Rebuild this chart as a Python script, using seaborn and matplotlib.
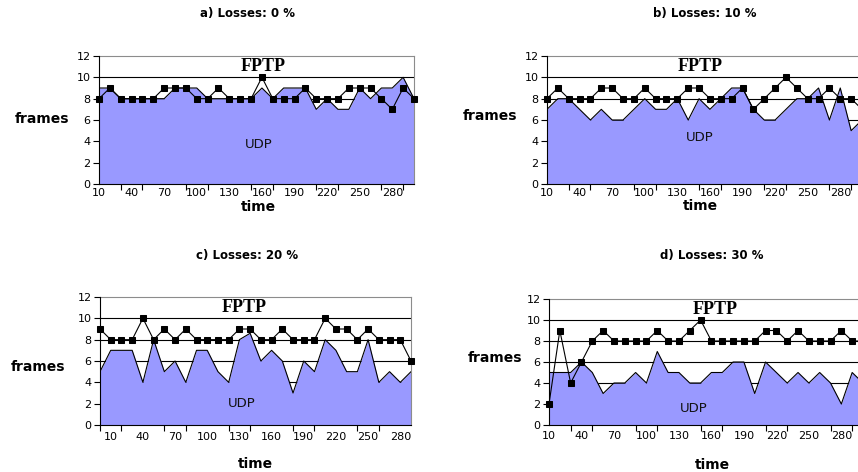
import matplotlib
matplotlib.use("Agg")
import matplotlib.pyplot as plt
import seaborn as sns

sns.set_theme(style="white")
plt.rcParams["font.family"] = ["DejaVu Sans"]

# ---- data -------------------------------------------------------------
time_abd = [10, 20, 30, 40, 50, 60, 70, 80, 90, 100, 110, 120, 130, 140, 150,
            160, 170, 180, 190, 200, 210, 220, 230, 240, 250, 260, 270, 280, 290, 300]
time_c = [0, 10, 20, 30, 40, 50, 60, 70, 80, 90, 100, 110, 120, 130, 140,
          150, 160, 170, 180, 190, 200, 210, 220, 230, 240, 250, 260, 270, 280, 290]

fptp_a = [8, 9, 8, 8, 8, 8, 9, 9, 9, 8, 8, 9, 8, 8, 8, 10, 8, 8, 8, 9, 8, 8, 8, 9, 9, 9, 8, 7, 9, 8]
udp_a = [9, 9, 8, 8, 8, 8, 8, 9, 9, 9, 8, 8, 8, 8, 8, 9, 8, 9, 9, 9, 7, 8, 7, 7, 9, 8, 9, 9, 10, 8]

fptp_b = [8, 9, 8, 8, 8, 9, 9, 8, 8, 9, 8, 8, 8, 9, 9, 8, 8, 8, 9, 7, 8, 9, 10, 9, 8, 8, 9, 8, 8, 7]
udp_b = [7, 8, 8, 7, 6, 7, 6, 6, 7, 8, 7, 7, 8, 6, 8, 7, 8, 9, 9, 7, 6, 6, 7, 8, 8, 9, 6, 9, 5, 6]

fptp_c = [9, 8, 8, 8, 10, 8, 9, 8, 9, 8, 8, 8, 8, 9, 9, 8, 8, 9, 8, 8, 8, 10, 9, 9, 8, 9, 8, 8, 8, 6]
udp_c = [5, 7, 7, 7, 4, 8, 5, 6, 4, 7, 7, 5, 4, 8, 8.6, 6, 7, 6, 3, 6, 5, 8, 7, 5, 5, 8, 4, 5, 4, 5]

fptp_d = [2, 9, 4, 6, 8, 9, 8, 8, 8, 8, 9, 8, 8, 9, 10, 8, 8, 8, 8, 8, 9, 9, 8, 9, 8, 8, 8, 9, 8, 8]
udp_d = [5, 5, 5, 6, 5, 3, 4, 4, 5, 4, 7, 5, 5, 4, 4, 5, 5, 6, 6, 3, 6, 5, 4, 5, 4, 5, 4, 2, 5, 4]

titles = ["a) Losses: 0 %", "b) Losses: 10 %", "c) Losses: 20 %", "d) Losses: 30 %"]
x_labels = ["10", "40", "70", "100", "130", "160", "190", "220", "250", "280"]
y_ticks = [0, 2, 4, 6, 8, 10, 12]

W, H = 858, 472
FILL = "#9999FF"

fig = plt.figure(figsize=(W / 100, H / 100), dpi=100)
fig.patch.set_facecolor("white")


def px_axes(left, right, top, bottom):
    return fig.add_axes([left / W, 1 - bottom / H, (right - left) / W, (bottom - top) / H])


panels = [
    # times, fptp, udp, axes box (px), first labelled index, FPTP text x, UDP text (x, y), label pad
    (time_abd, fptp_a, udp_a, (99, 414, 56, 184), 0, 161, (157, 3.7), 3),
    (time_abd, fptp_b, udp_b, (547, 862, 56, 184), 0, 151, (151, 4.4), 3),
    (time_c, fptp_c, udp_c, (100, 411, 297, 425), 1, 134, (132, 2.0), 5),
    (time_abd, fptp_d, udp_d, (549, 863, 299, 425), 0, 163, (144, 1.6), 4),
]

for times, fptp, udp, box, first_lab, fptp_x, udp_xy, xpad in panels:
    ax = px_axes(*box)
    ax.set_facecolor("white")

    # horizontal gridlines sit beneath the filled area
    for yv in y_ticks[1:-1]:
        ax.axhline(yv, color="black", lw=0.8, zorder=1)

    ax.fill_between(times, udp, 0, color=FILL, lw=0, zorder=2)
    sns.lineplot(x=times, y=udp, color="black", lw=0.8, ax=ax, zorder=3)
    sns.lineplot(x=times, y=fptp, color="black", lw=0.8, marker="s", markersize=5,
                 markeredgecolor="black", markerfacecolor="black", ax=ax, zorder=4,
                 clip_on=False)

    ax.set_xlim(times[0], times[-1])
    ax.set_ylim(0, 12)

    ax.set_yticks(y_ticks)
    ax.set_yticklabels([str(v) for v in y_ticks])
    ax.tick_params(axis="y", direction="out", length=4, width=0.8, color="black",
                   labelsize=8, pad=2, left=True, labelcolor="black")

    lab_pos = times[first_lab::3][:len(x_labels)]
    ax.set_xticks(lab_pos)
    ax.set_xticklabels(x_labels[:len(lab_pos)])
    ax.set_xticks(times[::2], minor=True)
    ax.tick_params(axis="x", which="major", length=0, labelsize=8, pad=xpad, labelcolor="black")
    ax.tick_params(axis="x", which="minor", direction="out", length=4, width=0.8,
                   color="black", bottom=True)

    for side in ["left", "bottom"]:
        ax.spines[side].set_color("black")
        ax.spines[side].set_linewidth(0.8)
        ax.spines[side].set_zorder(5)
    for side in ["top", "right"]:
        ax.spines[side].set_color("#8c8c8c")
        ax.spines[side].set_linewidth(0.8)

    ax.set_xlabel("")
    ax.set_ylabel("")
    ax.text(fptp_x, 11, "FPTP", ha="center", va="center", fontsize=13, fontweight="bold",
            family=["Liberation Serif", "DejaVu Serif"], color="black", zorder=6)
    ax.text(udp_xy[0], udp_xy[1], "UDP", ha="center", va="center", fontsize=9.5,
            color="#111111", zorder=6)


def ftext(x, y, s, **kw):
    fig.text(x / W, 1 - y / H, s, ha="center", va="center", color="black", **kw)


for (x, y), t in zip([(247, 13), (705, 13), (247, 255), (712, 255)], titles):
    ftext(x, y, t, fontsize=8.5, fontweight="bold")

for x, y in [(42, 119), (490, 116), (38, 367), (495, 358)]:
    ftext(x, y, "frames", fontsize=10, fontweight="bold")

for x, y in [(258, 207), (700, 206), (255, 464), (712, 465)]:
    ftext(x, y, "time", fontsize=10, fontweight="bold")

fig.savefig("out.png", dpi=100, facecolor="white")
